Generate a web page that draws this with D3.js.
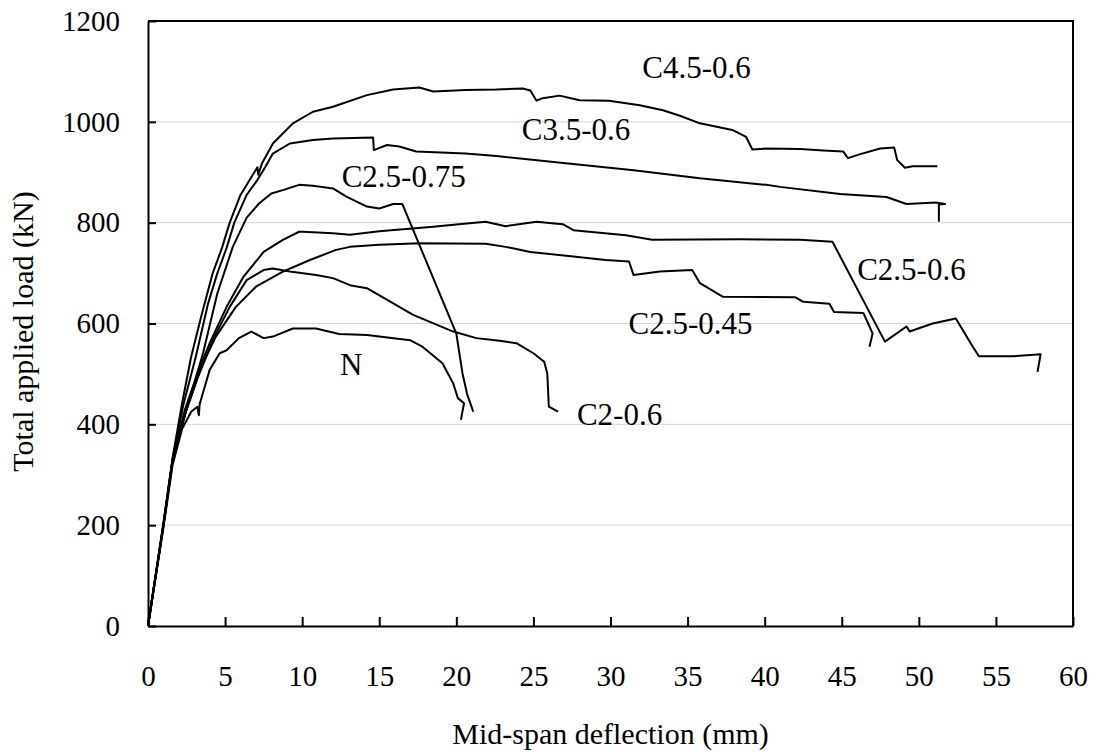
<!DOCTYPE html>
<html>
<head>
<meta charset="utf-8">
<script src="https://cdn.jsdelivr.net/npm/d3@7"></script>
<style>
  body { margin: 0; background: #fff; }
  svg text { font-family: "Liberation Serif", "Times New Roman", "DejaVu Serif", serif; fill: #000; }
</style>
</head>
<body>
<svg width="1096" height="755"></svg>
<script>
// axis ticks
const xTickValues = [0, 5, 10, 15, 20, 25, 30, 35, 40, 45, 50, 55, 60];
const yTickValues = [0, 200, 400, 600, 800, 1000, 1200];

// [mid-span deflection (mm), total load (kN)]
const c45_06 = [[0,0],[1,205],[1.6,335],[2.2,440],[2.8,534],[3.5,620],[4.2,700],[4.8,750],[5.3,800],[6.0,855],[6.6,885],[7.1,910],[7.15,895],[7.4,918],[8.1,957],[9.4,997],[10.7,1020],[12.0,1030],[14.2,1053],[15.9,1064],[17.6,1068],[18.5,1060],[20.6,1063],[22.6,1064],[24.3,1066],[24.8,1062],[25.2,1042],[25.6,1047],[26.7,1052],[28.0,1043],[29.9,1042],[31.9,1033],[33.4,1023],[34.5,1012],[35.8,997],[37.9,984],[38.8,970],[39.2,945],[40.1,947],[42.3,946],[43.8,943],[45.1,941],[45.4,928],[46.2,936],[47.5,947],[48.4,949],[48.6,924],[49.1,909],[49.6,912],[51.2,912]];
const c35_06 = [[0,0],[1,200],[1.6,330],[2.3,440],[3.1,534],[3.9,640],[4.5,700],[5.1,750],[5.6,800],[6.4,855],[7.1,885],[7.6,910],[8.1,937],[9.2,957],[10.7,964],[12.0,967],[14.6,969],[14.65,944],[15.5,954],[16.3,951],[17.4,941],[20.6,937],[22.6,932],[27.1,918],[31.5,904],[35.8,888],[40.1,875],[41.0,871],[44.9,857],[47.9,851],[49.2,837],[51.1,840],[51.7,837],[51.3,836],[51.3,802]];
const c25_075 = [[0,0],[1,200],[1.6,330],[2.5,430],[3.57,541],[4.5,660],[5.5,752],[6.4,810],[7.2,838],[8.0,858],[8.8,865],[9.8,875],[10.7,873],[12.0,868],[12.9,851],[14.2,832],[15.0,828],[15.9,837],[16.5,837],[20.0,580],[20.4,501],[20.7,460],[21.1,425]];
const c25_06 = [[0,0],[1,200],[1.6,330],[2.4,430],[3.2,500],[4.0,561],[5.1,633],[6.2,693],[7.5,742],[8.75,766],[9.8,782],[10.05,782],[12.0,779],[13.1,776],[15.0,783],[18.5,792],[20.5,798],[21.9,802],[23.2,793],[25.2,802],[26.9,797],[27.6,785],[31.0,775],[32.7,766],[38.4,767],[42.3,766],[44.4,762],[47.8,564],[49.2,594],[49.4,584],[50.9,600],[52.4,610],[53.5,554],[53.9,535],[56.1,535],[57.9,539],[57.7,504]];
const c25_045 = [[0,0],[1,200],[1.6,330],[2.5,430],[3.4,510],[4.4,574],[5.7,633],[7.0,673],[8.75,703],[10.5,726],[12.2,746],[13.1,752],[15.0,756],[17.6,759],[21.9,758],[23.2,752],[24.8,742],[29.7,726],[31.2,723],[31.5,696],[33.2,703],[35.3,706],[35.8,680],[37.3,653],[42.0,652],[42.5,643],[44.2,639],[44.5,623],[46.4,621],[46.8,594],[47.0,580],[46.8,554]];
const c2_06 = [[0,0],[1,200],[1.6,330],[2.4,420],[3.2,490],[4.2,567],[5.3,633],[6.4,686],[7.5,706],[8.1,709],[9.2,703],[10.9,696],[12.0,690],[13.1,676],[14.2,670],[17.2,617],[19.8,584],[21.3,571],[22.8,566],[23.9,561],[25.0,541],[25.7,524],[25.9,501],[26.0,435],[26.6,425]];
const cN = [[0,0],[1,195],[1.6,320],[2.2,390],[2.8,425],[3.2,435],[3.3,418],[3.35,440],[4.0,508],[4.65,541],[5.1,547],[5.9,571],[6.7,584],[7.5,571],[8.1,574],[9.4,590],[10.9,590],[12.4,579],[14.2,577],[17.0,567],[17.8,554],[19.1,521],[19.8,481],[20.1,452],[20.5,442],[20.3,409]];

const seriesNames = ['C4.5-0.6', 'C3.5-0.6', 'C2.5-0.75', 'C2.5-0.6', 'C2.5-0.45', 'C2-0.6', 'N'];
const seriesData = [c45_06, c35_06, c25_075, c25_06, c25_045, c2_06, cN];
// where each name sits, in (deflection, load) units
const labelAt = [[32.06,1087],[24.25,964],[12.56,871],[46.0,686],[31.17,580],[27.82,399],[12.45,498]];

const svg = d3.select('svg');
const margin = {top: 21, right: 23, bottom: 129, left: 148};
const width = +svg.attr('width') - margin.left - margin.right,
      height = +svg.attr('height') - margin.top - margin.bottom;
const g = svg.append('g').attr('transform', `translate(${margin.left},${margin.top})`);

const x = d3.scaleLinear().domain([0, 60]).range([0, width]);
const y = d3.scaleLinear().domain([0, 1200]).range([height, 0]);

// grid
g.append('g').selectAll('line')
  .data(yTickValues.filter(v => v > 0 && v < 1200))
  .join('line')
  .attr('x1', 0).attr('x2', width)
  .attr('y1', d => y(d)).attr('y2', d => y(d))
  .attr('stroke', '#d4d4d4').attr('stroke-width', 1);

// frame top/right
g.append('path')
  .attr('d', `M0,0H${width}V${height}`)
  .attr('fill', 'none').attr('stroke', '#000').attr('stroke-width', 2);

const x_ax = d3.axisBottom(x).tickValues(xTickValues).tickFormat(d3.format('d'))
               .tickSizeInner(-9).tickSizeOuter(0).tickPadding(39);
const y_ax = d3.axisLeft(y).tickValues(yTickValues).tickFormat(d3.format('d'))
               .tickSizeInner(-8).tickSizeOuter(0).tickPadding(28);

const h_x_ax = g.append('g').attr('transform', `translate(0,${height})`).call(x_ax);
const h_y_ax = g.append('g').call(y_ax);
[h_x_ax, h_y_ax].forEach(ax => {
  ax.attr('font-family', null).attr('font-size', null);
  ax.select('.domain').attr('stroke-width', 2);
  ax.selectAll('.tick line').attr('stroke-width', 2);
  ax.selectAll('.tick text').style('font-size', '29px');
});

const line = d3.line().x(d => x(d[0])).y(d => y(d[1]));

g.append('g').selectAll('path')
  .data(seriesData)
  .join('path')
  .attr('d', line)
  .attr('fill', 'none')
  .attr('stroke', '#000')
  .attr('stroke-width', 2)
  .attr('stroke-linejoin', 'round');

g.append('g').selectAll('text')
  .data(seriesNames)
  .join('text')
  .attr('x', (d, i) => x(labelAt[i][0]))
  .attr('y', (d, i) => y(labelAt[i][1]))
  .style('font-size', '31px')
  .text(d => d);

// axis titles
svg.append('text')
  .attr('x', margin.left + width / 2)
  .attr('y', 744)
  .attr('text-anchor', 'middle')
  .style('font-size', '30px')
  .text('Mid-span deflection (mm)');

svg.append('text')
  .attr('transform', `translate(33,${margin.top + height / 2 + 8}) rotate(-90)`)
  .attr('text-anchor', 'middle')
  .style('font-size', '30px')
  .text('Total applied load (kN)');
</script>
</body>
</html>
